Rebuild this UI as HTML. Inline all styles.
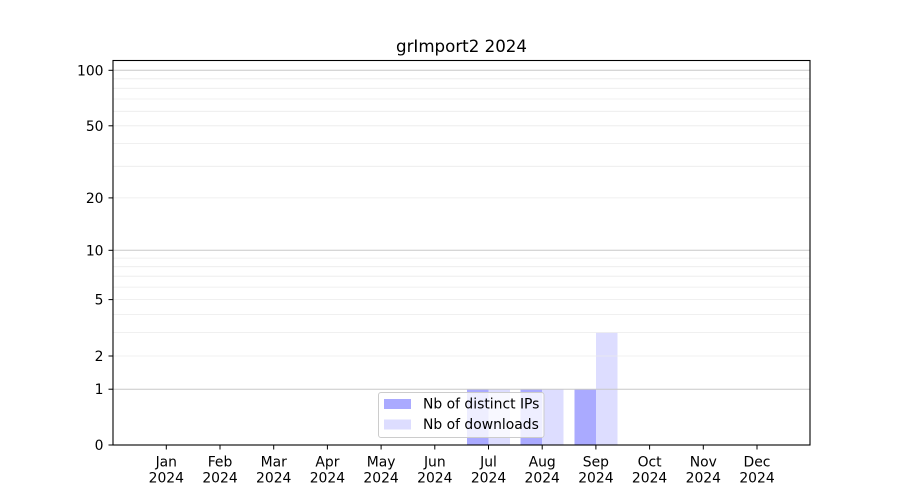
<!DOCTYPE html>
<html><head><meta charset="utf-8"><style>
html,body{margin:0;padding:0;background:#fff;}
svg{display:block;}
text{font-family:"DejaVu Sans","Liberation Sans",sans-serif;fill:#000;}
</style></head><body>
<svg width="900" height="500" viewBox="0 0 900 500" xmlns="http://www.w3.org/2000/svg">
<rect x="0" y="0" width="900" height="500" fill="#fff"/>
<!-- bars -->
<g shape-rendering="crispEdges">
<rect x="467" y="389.1" width="21.5" height="55.9" fill="#aaaaff"/>
<rect x="488.5" y="389.1" width="21.5" height="55.9" fill="#ddddff"/>
<rect x="520.7" y="389.1" width="21.5" height="55.9" fill="#aaaaff"/>
<rect x="542.2" y="389.1" width="21.5" height="55.9" fill="#ddddff"/>
<rect x="574.4" y="389.1" width="21.5" height="55.9" fill="#aaaaff"/>
<rect x="595.9" y="332.5" width="21.5" height="112.5" fill="#ddddff"/>
</g>
<!-- minor grid -->
<g stroke="#ebebeb" stroke-width="0.8">
<line x1="113" x2="810" y1="356.0" y2="356.0"/>
<line x1="113" x2="810" y1="332.5" y2="332.5"/>
<line x1="113" x2="810" y1="314.4" y2="314.4"/>
<line x1="113" x2="810" y1="299.6" y2="299.6"/>
<line x1="113" x2="810" y1="287.1" y2="287.1"/>
<line x1="113" x2="810" y1="276.2" y2="276.2"/>
<line x1="113" x2="810" y1="266.7" y2="266.7"/>
<line x1="113" x2="810" y1="258.1" y2="258.1"/>
<line x1="113" x2="810" y1="197.9" y2="197.9"/>
<line x1="113" x2="810" y1="166.3" y2="166.3"/>
<line x1="113" x2="810" y1="143.6" y2="143.6"/>
<line x1="113" x2="810" y1="125.8" y2="125.8"/>
<line x1="113" x2="810" y1="111.3" y2="111.3"/>
<line x1="113" x2="810" y1="99.0" y2="99.0"/>
<line x1="113" x2="810" y1="88.3" y2="88.3"/>
<line x1="113" x2="810" y1="78.8" y2="78.8"/>
</g>
<!-- major grid -->
<g stroke="#c8c8c8" stroke-width="1">
<line x1="113" x2="810" y1="389.2" y2="389.2"/>
<line x1="113" x2="810" y1="250.3" y2="250.3"/>
<line x1="113" x2="810" y1="70.3" y2="70.3"/>
</g>
<!-- legend -->
<rect x="378.5" y="392.5" width="165.5" height="45" rx="2.5" ry="2.5" fill="#fff" fill-opacity="0.8" stroke="#cccccc" stroke-width="1"/>
<rect x="384" y="399" width="27" height="10" fill="#aaaaff"/>
<rect x="384" y="419.5" width="27" height="10" fill="#ddddff"/>
<text x="423" y="408.5" font-size="13.9">Nb of distinct IPs</text>
<text x="423" y="429" font-size="13.9">Nb of downloads</text>
<!-- axes frame -->
<rect x="113" y="60.5" width="697" height="384.5" fill="none" stroke="#000" stroke-width="1.1"/>
<!-- y ticks -->
<g stroke="#000" stroke-width="1">
<line x1="108.5" x2="113" y1="445" y2="445"/>
<line x1="108.5" x2="113" y1="389.2" y2="389.2"/>
<line x1="108.5" x2="113" y1="356.0" y2="356.0"/>
<line x1="108.5" x2="113" y1="299.6" y2="299.6"/>
<line x1="108.5" x2="113" y1="250.3" y2="250.3"/>
<line x1="108.5" x2="113" y1="197.9" y2="197.9"/>
<line x1="108.5" x2="113" y1="125.8" y2="125.8"/>
<line x1="108.5" x2="113" y1="70.3" y2="70.3"/>
</g>
<g font-size="13.9" text-anchor="end">
<text x="103.5" y="450">0</text>
<text x="103.5" y="394.2">1</text>
<text x="103.5" y="361">2</text>
<text x="103.5" y="304.6">5</text>
<text x="103.5" y="255.3">10</text>
<text x="103.5" y="202.9">20</text>
<text x="103.5" y="130.8">50</text>
<text x="103.5" y="75.3">100</text>
</g>
<!-- x ticks -->
<g stroke="#000" stroke-width="1">
<line x1="166.3" x2="166.3" y1="445" y2="449.5"/>
<line x1="220.0" x2="220.0" y1="445" y2="449.5"/>
<line x1="273.7" x2="273.7" y1="445" y2="449.5"/>
<line x1="327.4" x2="327.4" y1="445" y2="449.5"/>
<line x1="381.1" x2="381.1" y1="445" y2="449.5"/>
<line x1="434.8" x2="434.8" y1="445" y2="449.5"/>
<line x1="488.5" x2="488.5" y1="445" y2="449.5"/>
<line x1="542.2" x2="542.2" y1="445" y2="449.5"/>
<line x1="595.9" x2="595.9" y1="445" y2="449.5"/>
<line x1="649.6" x2="649.6" y1="445" y2="449.5"/>
<line x1="703.3" x2="703.3" y1="445" y2="449.5"/>
<line x1="757.0" x2="757.0" y1="445" y2="449.5"/>
</g>
<g font-size="13.9" text-anchor="middle">
<text x="166.3" y="466.5">Jan</text><text x="166.3" y="482.5">2024</text>
<text x="220.0" y="466.5">Feb</text><text x="220.0" y="482.5">2024</text>
<text x="273.7" y="466.5">Mar</text><text x="273.7" y="482.5">2024</text>
<text x="327.4" y="466.5">Apr</text><text x="327.4" y="482.5">2024</text>
<text x="381.1" y="466.5">May</text><text x="381.1" y="482.5">2024</text>
<text x="434.8" y="466.5">Jun</text><text x="434.8" y="482.5">2024</text>
<text x="488.5" y="466.5">Jul</text><text x="488.5" y="482.5">2024</text>
<text x="542.2" y="466.5">Aug</text><text x="542.2" y="482.5">2024</text>
<text x="595.9" y="466.5">Sep</text><text x="595.9" y="482.5">2024</text>
<text x="649.6" y="466.5">Oct</text><text x="649.6" y="482.5">2024</text>
<text x="703.3" y="466.5">Nov</text><text x="703.3" y="482.5">2024</text>
<text x="757.0" y="466.5">Dec</text><text x="757.0" y="482.5">2024</text>
</g>
<!-- title -->
<text x="461.5" y="51.8" font-size="16.67" text-anchor="middle">grImport2 2024</text>
</svg>
</body></html>
